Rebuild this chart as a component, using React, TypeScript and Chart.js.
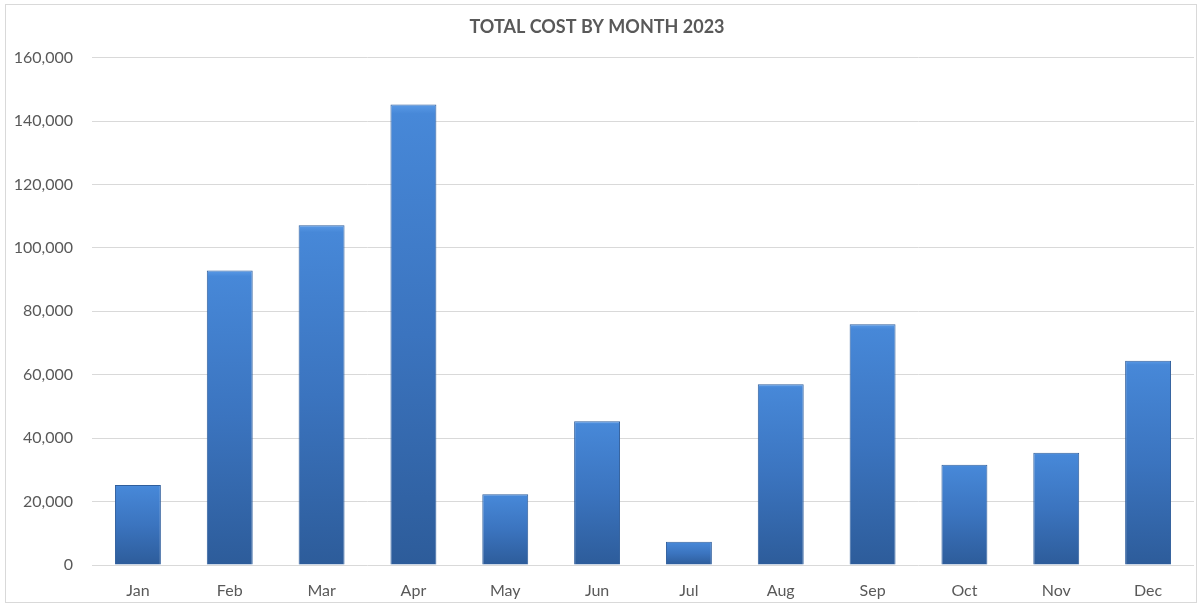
import React, { useEffect, useRef } from "react";
import { Chart, registerables } from "chart.js";

Chart.register(...registerables);

const months = ["Jan", "Feb", "Mar", "Apr", "May", "Jun", "Jul", "Aug", "Sep", "Oct", "Nov", "Dec"];
const totalCost = [25200, 92900, 107100, 145200, 22300, 45300, 7300, 57000, 75900, 31600, 35400, 64400];
const chartTitle = "TOTAL COST BY MONTH 2023";
const yMin = 0;
const yMax = 160000;
const yStep = 20000;

const frame = {
  id: "frame",
  beforeDraw(chart: any) {
    const ctx = chart.ctx;
    ctx.save();
    ctx.fillStyle = "#ffffff";
    ctx.fillRect(0, 0, chart.width, chart.height);
    ctx.strokeStyle = "#d9d9d9";
    ctx.lineWidth = 1;
    ctx.strokeRect(5.5, 4.5, chart.width - 10, chart.height - 8);
    ctx.restore();
  },
};

export default function App() {
  const ref = useRef<HTMLCanvasElement | null>(null);
  useEffect(() => {
    if (!ref.current) return;
    const chart = new Chart(ref.current, {
      type: "bar",
      data: {
        labels: months,
        datasets: [
          {
            label: "Total cost",
            data: totalCost,
            backgroundColor: (c: any) => {
              const ch = c.chart;
              const ca = ch.chartArea;
              if (!ca || !ch.scales.y || c.raw == null) return "#3b74bf";
              const top = ch.scales.y.getPixelForValue(c.raw);
              const bottom = ch.scales.y.getPixelForValue(0);
              if (!isFinite(top) || bottom - top < 1) return "#3b74bf";
              const g = ch.ctx.createLinearGradient(0, top, 0, bottom);
              g.addColorStop(0, "#5a9ae6");
              g.addColorStop(0.02, "#4788d8");
              g.addColorStop(0.5, "#3b74bf");
              g.addColorStop(1, "#2d5c9a");
              return g;
            },
            borderColor: "#2f5e9c",
            borderWidth: 1,
            barPercentage: 0.5,
            categoryPercentage: 1,
          },
        ],
      },
      options: {
        animation: false,
        responsive: false,
        maintainAspectRatio: false,
        layout: { padding: { left: 0, right: 7, top: 0, bottom: 0 } },
        plugins: {
          legend: { display: false },
          tooltip: { enabled: false },
          title: {
            display: true,
            text: chartTitle,
            color: "#595959",
            font: { family: "Lato", size: 18, weight: "bold", lineHeight: 1.2 },
            padding: { top: 16, bottom: 20 },
          },
        },
        scales: {
          x: {
            afterFit: (s: any) => {
              s.height = 41;
            },
            grid: { display: false, drawTicks: false },
            border: { display: false },
            ticks: {
              color: "#595959",
              font: { family: "Lato", size: 16 },
              padding: 16,
            },
          },
          y: {
            min: yMin,
            max: yMax,
            afterFit: (s: any) => {
              s.width = 92;
            },
            grid: { color: "#d9d9d9", lineWidth: 1, drawTicks: false },
            border: { display: false },
            ticks: {
              stepSize: yStep,
              color: "#595959",
              font: { family: "Lato", size: 16 },
              padding: 19,
              callback: (v: any) => Number(v).toLocaleString("en-US"),
            },
          },
        },
      },
      plugins: [frame],
    });
    return () => chart.destroy();
  }, []);
  return (
    <div style={{ position: "absolute", left: 0, top: 0, width: 1201, height: 606 }}>
      <canvas ref={ref} width={1201} height={606} style={{ width: 1201, height: 606, display: "block" }} />
    </div>
  );
}
